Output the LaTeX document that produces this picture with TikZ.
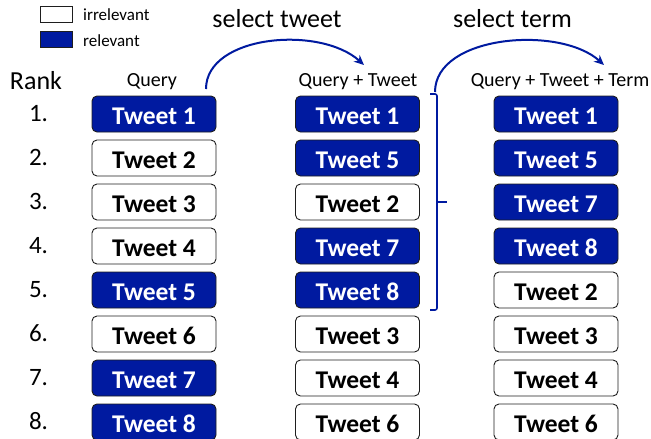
\documentclass[tikz,border=0pt]{standalone}
\usepackage{fontspec}
\setmainfont{Carlito}
\usetikzlibrary{arrows.meta}
\definecolor{relblue}{RGB}{0,26,160}
\definecolor{boxline}{RGB}{30,30,30}
\tikzset{
  tw/.style={draw=boxline, line width=0.9pt, rounded corners=5pt, minimum width=124pt, minimum height=36pt, inner sep=0pt, text height=21pt, text depth=0pt, font=\fontsize{25.5}{28}\selectfont\bfseries},
  rel/.style={tw, fill=relblue, text=white},
  irr/.style={tw, fill=white, text=black},
  head/.style={font=\fontsize{20}{24}\selectfont, inner sep=0pt},
  rank/.style={font=\fontsize{25}{28}\selectfont, inner sep=0pt},
  big/.style={font=\fontsize{26}{30}\selectfont, inner sep=0pt},
  leg/.style={font=\fontsize{17}{20}\selectfont, inner sep=0pt, anchor=west},
  legbox/.style={draw=boxline, line width=0.9pt, minimum width=32pt, minimum height=16pt, inner sep=0pt},
  curvearrow/.style={draw=relblue, line width=2pt, -{Stealth[length=10pt,width=9pt]}},
}
\begin{document}
\begin{tikzpicture}[x=1pt,y=-1pt]
\useasboundingbox (0,0) rectangle (651,439);
% legend
\node[legbox, fill=white] (lw) at (56,14.5) {};
\node[legbox, fill=relblue] (lb) at (56,39) {};
\node[leg] (lwt) at (83,15) {irrelevant};
\node[leg] (lbt) at (83,41) {relevant};
% headers
\node[big] (rank) at (36,81) {Rank};
\node[head] (h1) at (152,81.5) {Query};
\node[head] (h2) at (358,81.5) {Query + Tweet};
\node[head] (h3) at (560,81.5) {Query + Tweet + Term};
% rank numbers
\foreach \i in {1,...,8} {
  \node[rank] (r\i) at (38.5,{113.5+44*(\i-1)}) {\i.};
}
% column 1
\node[rel] (a1) at (154,114) {Tweet 1};
\node[irr] (a2) at (154,158) {Tweet 2};
\node[irr] (a3) at (154,202) {Tweet 3};
\node[irr] (a4) at (154,246) {Tweet 4};
\node[rel] (a5) at (154,290) {Tweet 5};
\node[irr] (a6) at (154,334) {Tweet 6};
\node[rel] (a7) at (154,378) {Tweet 7};
\node[rel] (a8) at (154,422) {Tweet 8};
% column 2
\node[rel] (b1) at (357.5,114) {Tweet 1};
\node[rel] (b2) at (357.5,158) {Tweet 5};
\node[irr] (b3) at (357.5,202) {Tweet 2};
\node[rel] (b4) at (357.5,246) {Tweet 7};
\node[rel] (b5) at (357.5,290) {Tweet 8};
\node[irr] (b6) at (357.5,334) {Tweet 3};
\node[irr] (b7) at (357.5,378) {Tweet 4};
\node[irr] (b8) at (357.5,422) {Tweet 6};
% column 3
\node[rel] (c1) at (556,114) {Tweet 1};
\node[rel] (c2) at (556,158) {Tweet 5};
\node[rel] (c3) at (556,202) {Tweet 7};
\node[rel] (c4) at (556,246) {Tweet 8};
\node[irr] (c5) at (556,290) {Tweet 2};
\node[irr] (c6) at (556,334) {Tweet 3};
\node[irr] (c7) at (556,378) {Tweet 4};
\node[irr] (c8) at (556,422) {Tweet 6};
% bracket
\draw[relblue, line width=1.6pt, rounded corners=2pt] (430,94) -- (437,94) -- (437,310) -- (430,310);
\draw[relblue, line width=1.6pt] (437,202) -- (447,202);
% arrows
\node[big] (l1) at (277,19) {select tweet};
\node[big] (l2) at (512.5,19) {select term};
\coordinate (s1) at (206,89);
\coordinate (e1) at (364,65);
\coordinate (s2) at (435,92);
\coordinate (e2) at (604,65);
\draw[curvearrow] (s1) .. controls (206,35) and (320,25) .. (e1);
\draw[curvearrow] (s2) .. controls (435,35) and (560,25) .. (e2);
\end{tikzpicture}
\end{document}
